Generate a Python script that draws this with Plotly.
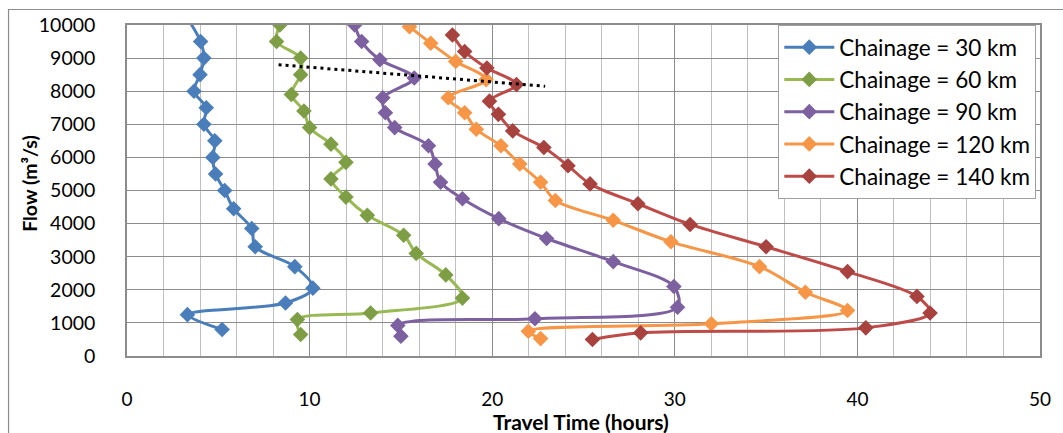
import plotly.graph_objects as go

# ---------------- data ----------------
series_names = ["Chainage = 30 km", "Chainage = 60 km", "Chainage = 90 km",
                "Chainage = 120 km", "Chainage = 140 km"]

time_30 = [3.2, 4.03, 4.21, 4.0, 3.67, 4.34, 4.21, 4.81, 4.70, 4.85, 5.35, 5.84, 6.83, 7.02, 9.19, 10.18, 8.68, 3.31, 5.21]
flow_30 = [10300, 9500, 9000, 8500, 8000, 7500, 7000, 6500, 6000, 5500, 5000, 4450, 3850, 3300, 2700, 2050, 1600, 1250, 800]

time_60 = [8.37, 8.19, 9.51, 9.51, 9.0, 9.69, 10.0, 11.17, 11.99, 11.17, 11.99, 13.16, 15.15, 15.84, 17.46, 18.37, 13.34, 9.33, 9.51]
flow_60 = [10000, 9500, 9000, 8500, 7900, 7400, 6900, 6400, 5850, 5350, 4800, 4250, 3650, 3100, 2450, 1750, 1300, 1100, 650]

time_90 = [12.47, 12.85, 13.85, 15.73, 14.01, 14.15, 14.66, 16.51, 16.87, 17.17, 18.37, 20.36, 22.98, 26.63, 29.95, 30.15, 22.34, 14.83, 15.0]
flow_90 = [10000, 9500, 8950, 8400, 7800, 7350, 6900, 6350, 5800, 5250, 4750, 4150, 3550, 2850, 2100, 1475, 1125, 925, 600]

time_120 = [15.47, 16.63, 18.0, 19.67, 17.59, 18.49, 19.13, 20.48, 21.51, 22.65, 23.46, 26.63, 29.79, 34.64, 37.15, 39.46, 32.0, 21.98, 22.65]
flow_120 = [9950, 9450, 8900, 8350, 7800, 7350, 6850, 6350, 5800, 5250, 4700, 4100, 3450, 2700, 1925, 1375, 975, 750, 525]

time_140 = [17.82, 18.49, 19.71, 21.33, 19.85, 20.34, 21.12, 22.83, 24.15, 25.36, 27.98, 30.84, 35.0, 39.46, 43.26, 43.98, 40.46, 28.13, 25.49]
flow_140 = [9700, 9200, 8700, 8200, 7700, 7300, 6800, 6300, 5750, 5200, 4600, 3975, 3300, 2550, 1800, 1300, 850, 700, 500]

trend_time = [8.3, 22.9]
trend_flow = [8800, 8150]

x_ticks = [0, 10, 20, 30, 40, 50]
y_ticks = [0, 1000, 2000, 3000, 4000, 5000, 6000, 7000, 8000, 9000, 10000]
y_tick_labels = [str(v) for v in y_ticks]

# ---------------- styles ----------------
line_colors = ["#4A7EBB", "#98B954", "#7D60A0", "#F79646", "#BE4B48"]
marker_colors = ["#4A7EBB", "#7E9E46", "#7D60A0", "#F79646", "#A8423F"]
FONT = "Lato"

fig = go.Figure()
all_t = [time_30, time_60, time_90, time_120, time_140]
all_f = [flow_30, flow_60, flow_90, flow_120, flow_140]
for name, t, f, lc, mc in zip(series_names, all_t, all_f, line_colors, marker_colors):
    fig.add_trace(go.Scatter(
        x=t, y=f, name=name, mode="lines+markers",
        line=dict(color=lc, width=3, shape="spline", smoothing=0.9),
        marker=dict(symbol="diamond", size=12, color=mc, line=dict(width=0)),
    ))

fig.add_trace(go.Scatter(
    x=trend_time, y=trend_flow, mode="lines", showlegend=False,
    line=dict(color="black", width=3, dash="3px,4px"),
))

fig.update_layout(
    width=1063, height=433,
    margin=dict(l=127, r=15, t=25, b=77),
    paper_bgcolor="white", plot_bgcolor="white",
    font=dict(family=FONT, size=19, color="black"),
    showlegend=True,
    legend=dict(
        x=(784 - 127) / 921, y=1.0, xanchor="left", yanchor="top",
        bgcolor="white", bordercolor="#A0A0A0", borderwidth=1,
        font=dict(family=FONT, size=22.5, color="black"),
        tracegroupgap=0, itemwidth=50,
    ),
    xaxis=dict(
        range=[0, 50], tickvals=x_ticks, ticks="", showgrid=True,
        gridcolor="#8C8C8C", gridwidth=1,
        minor=dict(dtick=2, showgrid=True, gridcolor="#C0C0C0", gridwidth=1),
        showline=True, linecolor="#8C8C8C", linewidth=1.5, mirror=True,
        zeroline=False, ticklabelstandoff=25,
        tickfont=dict(family=FONT, size=19),
    ),
    yaxis=dict(
        range=[0, 10000], tickvals=y_ticks, ticktext=y_tick_labels, ticks="", showgrid=True,
        gridcolor="#8C8C8C", gridwidth=1.3,
        showline=True, linecolor="#8C8C8C", linewidth=1.5, mirror=True,
        zeroline=False, ticklabelstandoff=26,
        tickfont=dict(family=FONT, size=19.5),
    ),
    annotations=[
        dict(text="<b>Flow (m³/s)</b>", x=(28 - 127) / 921, y=(356 - 183) / 331,
             xref="paper", yref="paper", showarrow=False, textangle=-90,
             font=dict(family=FONT, size=19.5), xanchor="center", yanchor="middle"),
        dict(text="<b>Travel Time (hours)</b>", x=(585 - 127) / 921, y=(356 - 421) / 331,
             xref="paper", yref="paper", showarrow=False,
             font=dict(family=FONT, size=21), xanchor="center", yanchor="middle"),
    ],
    shapes=[
        dict(type="rect", xref="paper", yref="paper",
             x0=(7.5 - 127) / 921, x1=1.2, y0=-0.5, y1=(356 - 9.5) / 331,
             line=dict(color="#8C8C8C", width=1.2), fillcolor="rgba(0,0,0,0)", layer="below"),
    ],
)

fig.write_html("out.html", config={"displayModeBar": False},
               post_script="document.body.style.margin='0';")
